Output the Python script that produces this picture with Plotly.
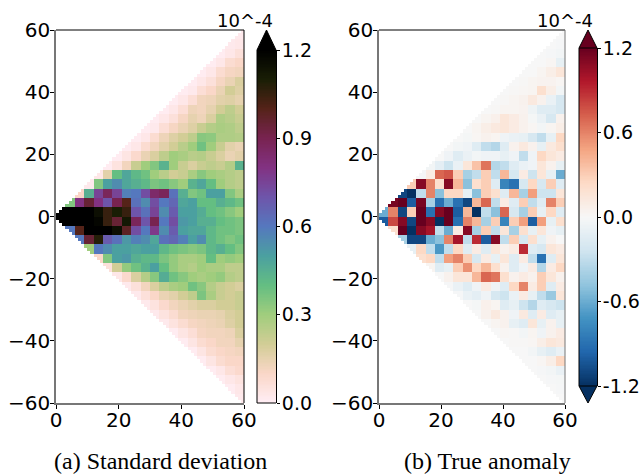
import plotly.graph_objects as go

W, H = 641, 475
x_ticks = [0, 20, 40, 60]
y_ticks = [-60, -40, -20, 0, 20, 40, 60]
std_ticks = [0.0, 0.3, 0.6, 0.9, 1.2]
std_tick_text = ["0.0", "0.3", "0.6", "0.9", "1.2"]
ano_ticks = [-1.2, -0.6, 0.0, 0.6, 1.2]
ano_tick_text = ["-1.2", "-0.6", "0.0", "0.6", "1.2"]
caption_a = "(a) Standard deviation"
caption_b = "(b) True anomaly"
exponent_label = "10^-4"

# Values x 1e-6, in 3-unit bins. Each list is one band of y, from |y|=0-3 outward.
# A list is aligned to the right edge of the plot (x = 60).
std_upper = [
    [125,125,120,125,115,105,110,105,70,62,75,55,68,50,50,46,40,38,34,30],
    [35,80,95,80,70,90,100,62,55,72,60,65,48,50,40,40,45,42,38],
    [10,45,75,88,75,58,60,72,85,88,62,45,35,38,50,50,35,28],
    [2,35,50,55,48,45,42,36,38,34,30,44,48,40,30,26,24],
    [3,16,40,48,42,38,30,25,20,22,28,34,30,28,26,24],
    [1,5,12,22,30,35,44,30,22,18,22,24,22,26,44],
    [1,4,9,14,18,24,30,28,25,26,22,18,14,16],
    [1,3,8,12,16,20,25,30,38,30,22,16,14],
    [1,3,8,13,17,20,24,34,33,27,27,26],
    [1,2,7,11,14,17,22,26,28,27,24],
    [1,3,6,11,15,13,18,27,25,22],
    [1,3,7,13,12,15,20,24,20],
    [1,3,7,12,13,16,17,15],
    [1,2,7,10,14,20,17],
    [1,3,6,11,14,18],
    [1,3,8,11,12],
    [1,3,8,10],
    [1,3,6],
    [2,3],
    [2],
]
std_lower = [
    [125,125,125,125,118,105,95,112,88,70,90,60,72,52,50,45,45,40,38,36],
    [60,100,122,128,128,115,98,72,60,78,55,68,50,48,48,42,38,38,36],
    [60,95,108,68,62,52,58,55,48,62,65,58,50,55,42,38,35,38],
    [30,60,55,50,50,48,50,50,42,38,36,34,36,42,45,40,35],
    [10,35,50,52,45,42,42,36,32,28,28,30,40,30,32,30],
    [6,20,32,38,44,50,40,32,28,26,30,28,28,24,24],
    [3,9,18,26,34,46,38,34,30,28,30,32,26,24],
    [2,6,12,18,24,28,30,38,34,26,22,20,18],
    [2,6,10,14,16,20,24,36,28,22,20,22],
    [2,5,9,12,14,16,18,18,20,20,22],
    [2,5,8,12,13,14,14,15,18,20],
    [2,5,8,11,12,13,14,17,20],
    [1,4,7,11,12,12,13,18],
    [1,4,8,10,12,12,15],
    [1,4,8,10,11,12],
    [1,4,8,10,10],
    [1,3,7,9],
    [1,3,5],
    [1,3],
    [2],
]
ano_upper = [
    [-60,60,-110,30,120,-90,110,120,-100,40,-120,-30,-50,70,-20,-40,30,-10,25,-15],
    [115,120,-100,115,-40,-90,-60,-90,-110,40,70,-30,10,-15,30,-30,-15,60,30],
    [-110,-120,-30,60,-50,25,25,-10,-50,30,20,-15,40,-40,50,-25,-25,15],
    [30,110,60,20,110,40,-50,20,30,-15,-80,-90,-20,25,-20,30,-15],
    [-1,10,70,75,30,-40,-30,30,-30,40,-20,10,-25,15,-10,-60],
    [-3,-12,-25,-8,15,35,65,-35,-30,-15,-8,-5,15,5,-10],
    [0,-5,-15,-8,-3,-5,-5,-10,-5,-30,-5,25,15,10],
    [0,-3,-5,-15,-30,-35,-15,5,12,5,-10,12,20],
    [0,-2,2,5,3,-5,-8,-10,-20,-30,-10,25],
    [0,3,8,12,15,10,5,2,-3,3,8],
    [0,3,6,15,10,5,-2,-8,-20,5],
    [0,1,3,3,4,-6,-15,-15,-20],
    [0,1,3,5,12,5,-8,-20],
    [0,1,2,3,20,8,-3],
    [0,1,3,4,4,2],
    [0,0,3,8,15],
    [0,0,2,-10],
    [0,-1,-3],
    [0,-1],
    [0],
]
ano_lower = [
    [-100,80,110,-110,120,110,-120,120,-90,60,40,-40,30,-80,30,50,-100,50,-10,20],
    [20,120,-120,110,100,-30,-60,10,110,-40,30,-30,15,-40,20,-10,15,-5,-10],
    [-40,-110,-110,-60,-50,60,100,-30,90,-100,110,-30,30,-20,20,-10,5,0],
    [-10,25,-30,-70,-30,25,-15,10,-15,15,5,10,90,-15,-20,15,10],
    [20,25,-30,50,60,30,-20,10,-10,15,-15,10,-30,-90,-15,15],
    [3,-15,-10,30,55,25,40,20,5,-15,-5,10,-35,10,25],
    [0,5,15,15,40,70,65,20,5,10,5,30,15,5],
    [-1,-8,-15,-5,10,-5,-15,25,60,10,30,-15,10],
    [-1,-8,-12,-5,-20,-25,-8,10,-10,-30,-45,15],
    [0,-2,6,3,-15,-10,-25,-35,-15,-20,-25],
    [0,5,12,5,-5,12,-15,10,-15,-10],
    [0,3,5,-10,-15,15,-10,5,-10],
    [0,2,1,-3,3,-5,5,10],
    [0,1,1,2,8,15,12],
    [0,0,-3,-10,-15,-8],
    [0,0,2,8,25],
    [0,-1,-3,-8],
    [0,-1,-2],
    [0,-1],
    [0],
]

std_colors = ["rgb(255,238,245)", "rgb(250,215,200)", "rgb(210,205,150)", "rgb(160,205,125)",
              "rgb(100,190,130)", "rgb(75,160,160)", "rgb(85,120,190)", "rgb(110,85,170)",
              "rgb(130,50,130)", "rgb(120,35,80)", "rgb(85,35,25)", "rgb(25,30,5)", "rgb(0,0,0)"]
ano_colors = ["rgb(5,48,97)", "rgb(33,102,172)", "rgb(67,147,195)", "rgb(146,197,222)", "rgb(209,229,240)",
              "rgb(247,247,247)", "rgb(253,219,199)", "rgb(244,165,130)", "rgb(214,96,77)", "rgb(178,24,43)",
              "rgb(103,0,31)"]


def scale(colors):
    n = len(colors) - 1
    return [[i / n, c] for i, c in enumerate(colors)]


def fine_grid(upper, lower):
    xs = [i + 0.5 for i in range(60)]
    ys = [j + 0.5 for j in range(-60, 60)]
    z = []
    for y in ys:
        bands = upper if y > 0 else lower
        band = bands[int(abs(y) // 3)]
        row = []
        for x in xs:
            if abs(y) > x + 0.5:
                row.append(None)
            else:
                col = int(x // 3)
                row.append(band[col - (20 - len(band))] / 100)
        z.append(row)
    return xs, ys, z


def px(x):
    return x / W


def py(y):
    return 1 - y / H


def bar_levels(lo, hi, n=256):
    return [lo + (hi - lo) * (i + 0.5) / n for i in range(n)]


fig = go.Figure()
xs, ys, z = fine_grid(std_upper, std_lower)
fig.add_trace(go.Heatmap(x=xs, y=ys, z=z, zmin=0, zmax=1.2, colorscale=scale(std_colors), hoverongaps=False,
                         xaxis="x", yaxis="y", showscale=False))
xs, ys, z = fine_grid(ano_upper, ano_lower)
fig.add_trace(go.Heatmap(x=xs, y=ys, z=z, zmin=-1.2, zmax=1.2, colorscale=scale(ano_colors), hoverongaps=False,
                         xaxis="x2", yaxis="y2", showscale=False))
lv = bar_levels(0, 1.2)
fig.add_trace(go.Heatmap(x=[0], y=lv, z=[[v] for v in lv], zmin=0, zmax=1.2, colorscale=scale(std_colors),
                         xaxis="x3", yaxis="y3", showscale=False))
lv = bar_levels(-1.2, 1.2)
fig.add_trace(go.Heatmap(x=[0], y=lv, z=[[v] for v in lv], zmin=-1.2, zmax=1.2, colorscale=scale(ano_colors),
                         xaxis="x4", yaxis="y4", showscale=False))

tick_font = dict(family="DejaVu Sans", size=20, color="black")
common = dict(showgrid=False, zeroline=False, showline=True, linecolor="#777777", linewidth=1.5, automargin=False,
              ticks="outside", ticklen=4, tickcolor="black", tickfont=tick_font, mirror=False)
hidden = dict(showgrid=False, zeroline=False, showline=False, ticks="", showticklabels=False, range=[-0.5, 0.5],
              automargin=False)
bar_axis = dict(showgrid=False, zeroline=False, showline=True, linecolor="black", linewidth=1, side="right",
                ticks="outside", ticklen=3, tickcolor="black", tickmode="array", automargin=False,
                ticklabelstandoff=-2, tickfont=dict(family="DejaVu Sans", size=19, color="black"))
L1, R1, L2, R2, T, B = 56, 244, 379, 565, 30, 403
C1L, C1R, C1T, C1B = 257, 276, 50, 403
C2L, C2R, C2T, C2B = 579, 597, 48, 386
fig.update_layout(
    width=W, height=H, margin=dict(l=0, r=0, t=0, b=0), paper_bgcolor="white", plot_bgcolor="white",
    showlegend=False,
    xaxis=dict(domain=[px(L1), px(R1)], range=[0, 60], tickvals=x_ticks, anchor="y", ticklabelstandoff=-6, **common),
    yaxis=dict(domain=[py(B), py(T)], range=[-60, 60], tickvals=y_ticks, anchor="x", ticklabelstandoff=-4, **common),
    xaxis2=dict(domain=[px(L2), px(R2)], range=[0, 60], tickvals=x_ticks, anchor="y2", ticklabelstandoff=-6, **common),
    yaxis2=dict(domain=[py(B), py(T)], range=[-60, 60], tickvals=y_ticks, anchor="x2", ticklabelstandoff=-4, **common),
    xaxis3=dict(domain=[px(C1L), px(C1R)], anchor="y3", **hidden),
    yaxis3=dict(domain=[py(C1B), py(C1T)], range=[0, 1.2], tickvals=std_ticks, ticktext=std_tick_text,
                anchor="x3", **bar_axis),
    xaxis4=dict(domain=[px(C2L), px(C2R)], anchor="y4", **hidden),
    yaxis4=dict(domain=[py(C2B), py(C2T)], range=[-1.2, 1.2], tickvals=ano_ticks, ticktext=ano_tick_text,
                anchor="x4", **bar_axis),
)


def line(x0, y0, x1, y1, color):
    fig.add_shape(type="line", xref="paper", yref="paper", x0=px(x0), y0=py(y0), x1=px(x1), y1=py(y1),
                  line=dict(color=color, width=1))


line(L1, T, R1, T, "black")
line(R1, T, R1, B, "black")
line(L2, T, R2, T, "black")
line(R2, T, R2, B, "#777777")
line(C1L, C1T, C1L, C1B, "black")
line(C1L, C1B, C1R, C1B, "black")
line(C2L, C2T, C2L, C2B, "black")


def tri(x0, x1, y_base, y_tip, color):
    path = f"M {px(x0)} {py(y_base)} L {px(x1)} {py(y_base)} L {px((x0 + x1) / 2)} {py(y_tip)} Z"
    fig.add_shape(type="path", xref="paper", yref="paper", path=path, fillcolor=color,
                  line=dict(color="black", width=1))


tri(C1L, C1R, C1T, 30, "black")
tri(C2L, C2R, C2T, 30, ano_colors[-1])
tri(C2L, C2R, C2B, 403, ano_colors[0])


def label(x, y, text, family, size, anchor):
    fig.add_annotation(xref="paper", yref="paper", x=px(x), y=py(y), text=text, showarrow=False,
                       xanchor=anchor, yanchor="middle", font=dict(family=family, size=size, color="black"),
                       borderpad=0, borderwidth=0)


label(273, 20, exponent_label, "DejaVu Sans", 18, "right")
label(593, 20, exponent_label, "DejaVu Sans", 18, "right")
label(160.5, 461, caption_a, "Liberation Serif", 24, "center")
label(487.5, 461, caption_b, "Liberation Serif", 24, "center")

fig.write_html("out.html", config=dict(displayModeBar=False),
               post_script="document.body.style.margin='0';document.documentElement.style.overflow='hidden';")
